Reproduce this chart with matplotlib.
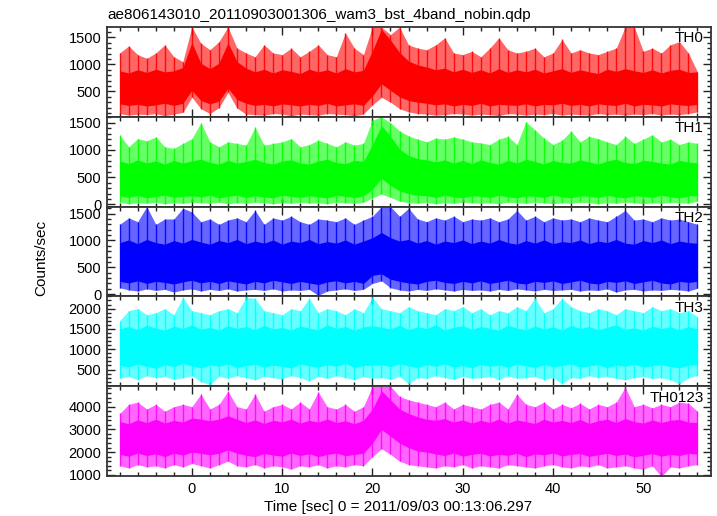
import matplotlib
matplotlib.use('Agg')
import matplotlib.pyplot as plt
import matplotlib.ticker as ticker
import numpy as np

# time bins, 1 s wide, centred on -8 ... 56 s
time_sec = np.arange(-8, 57)

# TH0 : per-second spike top / dip bottom and dense core band (counts/sec)
th0_hi = [1210, 1340, 1180, 1110, 1210, 1360, 1140, 1050, 1690, 1390,
          1270, 1420, 1690, 1300, 1210, 1140, 1360, 1210, 1180, 1300,
          1140, 1240, 1360, 1180, 1140, 1580, 1300, 1180, 1690, 1690,
          1550, 1690, 1360, 1300, 1270, 1360, 1490, 1210, 1180, 1240,
          1140, 1300, 1490, 1270, 1210, 1240, 1300, 1140, 1210, 1460,
          1210, 1270, 1210, 1180, 1240, 1300, 1690, 1690, 1240, 1300,
          1210, 1360, 1420, 1210, 860]
th0_lo = [90, 60, 80, 70, 90, 50, 80, 110, 390, 180,
          90, 200, 480, 190, 80, 70, 60, 90, 80, 50,
          80, 70, 60, 90, 80, 70, 50, 80, 250, 390,
          300, 180, 120, 90, 80, 60, 70, 90, 80, 60,
          80, 70, 50, 90, 80, 60, 80, 70, 90, 60,
          80, 70, 60, 90, 70, 80, 60, 80, 70, 90,
          60, 80, 70, 90, 120]
th0_core_lo = [270, 240, 260, 230, 250, 280, 240, 280, 520, 330,
               270, 320, 560, 350, 280, 240, 260, 230, 270, 250,
               230, 260, 240, 280, 230, 250, 270, 240, 420, 640,
               520, 400, 330, 300, 280, 250, 270, 230, 260, 240,
               280, 230, 260, 250, 240, 270, 230, 260, 250, 280,
               240, 260, 230, 270, 250, 240, 280, 230, 260, 250,
               230, 270, 250, 240, 260]
th0_core_hi = [880, 840, 900, 850, 910, 860, 880, 940, 1400, 1020,
               920, 1020, 1400, 1050, 930, 860, 910, 840, 900, 870,
               830, 910, 860, 900, 840, 920, 860, 890, 1250, 1650,
               1450, 1220, 1060, 990, 950, 900, 930, 860, 910, 850,
               900, 840, 920, 850, 900, 860, 910, 840, 880, 920,
               850, 900, 860, 830, 910, 870, 920, 880, 850, 900,
               840, 890, 910, 850, 860]

# TH1
th1_hi = [1280, 1060, 1210, 1170, 1240, 1060, 1030, 1120, 1210, 1500,
          1150, 1060, 1150, 1120, 1090, 1420, 1090, 1120, 1150, 1210,
          1060, 1100, 1180, 1120, 1060, 1150, 1090, 1120, 1550, 1610,
          1500, 1350, 1260, 1200, 1150, 1220, 1200, 1240, 1200, 1150,
          1130, 1100, 1200, 1250, 1100, 1520, 1370, 1220, 1100, 1180,
          1350, 1150, 1250, 1210, 1150, 1100, 1250, 1120, 1200, 1280,
          1150, 1200, 1100, 1150, 1120]
th1_lo = [40, 10, 30, 20, 40, 10, 30, 20, 40, 30,
          20, 40, 10, 30, 20, 40, 30, 10, 30, 20,
          40, 20, 30, 10, 40, 30, 20, 40, 120, 190,
          130, 60, 30, 20, 40, 10, 30, 20, 40, 30,
          20, 30, 10, 40, 30, 20, 40, 30, 10, 30,
          20, 40, 30, 10, 30, 20, 40, 30, 10, 30,
          20, 40, 30, 20, 60]
th1_core_lo = [160, 130, 170, 120, 150, 170, 130, 150, 160, 140,
               170, 120, 150, 170, 130, 160, 140, 120, 170, 150,
               130, 160, 140, 120, 170, 150, 130, 160, 280, 480,
               350, 250, 200, 170, 160, 130, 170, 140, 120, 160,
               150, 130, 170, 140, 120, 160, 150, 130, 170, 140,
               120, 160, 150, 130, 170, 140, 120, 160, 150, 130,
               170, 140, 120, 160, 160]
th1_core_hi = [800, 750, 820, 760, 800, 740, 810, 760, 800, 830,
               770, 740, 810, 760, 790, 830, 770, 740, 800, 820,
               760, 740, 800, 830, 770, 750, 810, 790, 1100, 1450,
               1250, 1020, 900, 840, 820, 780, 820, 760, 810, 750,
               820, 770, 740, 810, 760, 830, 790, 740, 810, 770,
               760, 820, 780, 740, 800, 830, 770, 750, 810, 790,
               760, 740, 810, 780, 760]

# TH2
th2_hi = [1300, 1420, 1350, 1630, 1300, 1400, 1400, 1600, 1530, 1350,
          1400, 1300, 1380, 1420, 1350, 1560, 1300, 1420, 1380, 1450,
          1350, 1300, 1400, 1380, 1350, 1420, 1300, 1380, 1450, 1630,
          1630, 1450, 1600, 1400, 1350, 1420, 1380, 1450, 1350, 1400,
          1380, 1420, 1350, 1400, 1560, 1380, 1450, 1350, 1420, 1380,
          1400, 1350, 1420, 1380, 1350, 1450, 1560, 1380, 1400, 1350,
          1420, 1380, 1400, 1350, 1300]
th2_lo = [120, 80, 60, 100, 70, 90, 40, 80, 100, 60,
          90, 70, 100, 60, 80, 90, 70, 100, 60, 80,
          70, 90, -20, 60, 80, 100, 70, 90, 200, 250,
          120, 80, 60, 90, 70, 100, 80, 60, 90, 70,
          80, 60, 90, 70, 100, 80, 60, 90, 70, 80,
          90, 60, 80, 70, 100, 40, 80, 90, 60, 80,
          70, 90, 80, 60, 110]
th2_core_lo = [240, 210, 250, 200, 240, 220, 190, 230, 260, 210,
               240, 200, 250, 220, 190, 240, 210, 260, 230, 200,
               240, 210, 180, 230, 250, 210, 240, 200, 350, 380,
               280, 240, 210, 190, 240, 260, 220, 200, 240, 210,
               250, 200, 230, 260, 210, 190, 240, 220, 250, 200,
               230, 260, 210, 190, 240, 220, 250, 200, 230, 260,
               210, 190, 240, 220, 240]
th2_core_hi = [960, 1010, 940, 1020, 960, 930, 1000, 950, 1020, 970,
               930, 1000, 960, 1020, 940, 990, 950, 1010, 930, 990,
               960, 1020, 940, 980, 950, 1010, 930, 990, 1050, 1150,
               1050, 990, 1020, 950, 1000, 930, 990, 960, 1010, 940,
               990, 950, 1020, 960, 930, 1000, 950, 1010, 940, 980,
               960, 1010, 940, 990, 960, 1020, 950, 930, 1000, 960,
               1010, 940, 990, 960, 950]

# TH3
th3_hi = [1700, 1950, 2000, 1850, 1900, 2000, 1850, 2280, 1950, 1900,
          1850, 1950, 2000, 1900, 2280, 2250, 1950, 1900, 1850, 2000,
          1950, 2250, 1900, 2000, 1950, 1850, 2000, 1900, 2280, 2000,
          1950, 1900, 2050, 1950, 1900, 1850, 2000, 1950, 2050, 1900,
          2000, 1850, 1950, 1900, 2050, 1950, 2260, 1900, 2000, 2250,
          2050, 1950, 1900, 2000, 1950, 1850, 2000, 1950, 1900, 2050,
          1950, 2000, 1900, 1950, 1800]
th3_lo = [280, 330, 250, 350, 300, 330, 260, 300, 350, 200,
          130, 330, 280, 350, 300, 250, 330, 300, 270, 350,
          300, 220, 330, 280, 350, 300, 250, 330, 280, 300,
          260, 330, 150, 300, 280, 350, 300, 260, 330, 280,
          300, 330, 250, 350, 280, 300, 330, 250, 300, 150,
          300, 280, 350, 300, 330, 280, 250, 300, 330, 280,
          300, 250, 150, 300, 350]
th3_core_lo = [610, 560, 640, 580, 530, 620, 570, 650, 590, 540,
               620, 580, 640, 550, 600, 630, 560, 610, 580, 540,
               640, 590, 560, 620, 580, 650, 550, 600, 610, 620,
               570, 640, 590, 550, 620, 580, 640, 560, 600, 540,
               630, 580, 610, 560, 640, 590, 550, 620, 570, 600,
               640, 560, 590, 620, 550, 610, 580, 640, 560, 600,
               620, 570, 540, 610, 610]
th3_core_hi = [1500, 1560, 1480, 1590, 1520, 1470, 1570, 1510, 1600, 1490,
               1540, 1470, 1580, 1510, 1560, 1480, 1590, 1500, 1540, 1470,
               1570, 1520, 1480, 1600, 1510, 1560, 1470, 1550, 1580, 1540,
               1500, 1590, 1480, 1550, 1510, 1600, 1470, 1540, 1580, 1490,
               1560, 1510, 1470, 1590, 1520, 1480, 1570, 1500, 1550, 1470,
               1590, 1510, 1560, 1480, 1540, 1600, 1490, 1530, 1470, 1570,
               1510, 1550, 1480, 1560, 1500]

# TH0123 (sum)
th0123_hi = [3700, 4100, 4200, 3900, 4100, 3800, 4000, 4100, 4000, 4550,
             3900, 4100, 4680, 4000, 3900, 4550, 3800, 4000, 4100, 3900,
             4200, 3900, 4650, 4000, 3900, 4100, 3800, 4000, 4900, 4900,
             4900, 4450, 4300, 4200, 4100, 4000, 4200, 3900, 4100, 4000,
             3900, 4100, 4200, 3900, 4550, 4100, 4000, 4200, 3900, 4100,
             3950, 4150, 3900, 4100, 4000, 4200, 4860, 4000, 4100, 3950,
             4100, 4000, 4200, 4150, 3800]
th0123_lo = [1400, 1300, 1450, 1350, 1400, 1300, 1450, 1350, 1500, 1400,
             1300, 1450, 1600, 1400, 1350, 1450, 1300, 1400, 1350, 1250,
             1400, 1350, 1450, 1300, 1400, 1350, 1450, 1400, 1800, 2150,
             1900, 1600, 1450, 1400, 1350, 1300, 1400, 1350, 1450, 1300,
             1400, 1350, 1300, 1450, 1400, 1350, 1300, 1400, 1450, 1350,
             1300, 1400, 1350, 1450, 1300, 1350, 1400, 1300, 1250, 1400,
             920, 1350, 1300, 1400, 1450]
th0123_core_lo = [1900, 1820, 1960, 1850, 1930, 1800, 1950, 1870, 2000, 1950,
                  1880, 1950, 2100, 1950, 1860, 1800, 1940, 1870, 1820, 1960,
                  1850, 1930, 1800, 1900, 1960, 1840, 1900, 1950, 2400, 3000,
                  2700, 2400, 2200, 2050, 2000, 1920, 1850, 1960, 1820, 1900,
                  1950, 1830, 1900, 1860, 1950, 1800, 1920, 1880, 1960, 1830,
                  1900, 1940, 1810, 1880, 1950, 1850, 1920, 1790, 1860, 1940,
                  1820, 1900, 1850, 1950, 1910]
th0123_core_hi = [3350, 3250, 3420, 3300, 3450, 3280, 3400, 3320, 3500, 3450,
                  3380, 3450, 3600, 3450, 3300, 3420, 3260, 3400, 3330, 3450,
                  3280, 3400, 3320, 3460, 3300, 3380, 3250, 3400, 3900, 4700,
                  4300, 3900, 3700, 3550, 3450, 3400, 3480, 3320, 3420, 3280,
                  3400, 3300, 3460, 3280, 3420, 3340, 3260, 3450, 3320, 3400,
                  3300, 3440, 3260, 3380, 3450, 3300, 3480, 3340, 3280, 3420,
                  3300, 3400, 3440, 3320, 3300]

channels = ['TH0', 'TH1', 'TH2', 'TH3', 'TH0123']
colors = ['#ff0000', '#00ff00', '#0000ff', '#00ffff', '#ff00ff']
ylims = [(30, 1690), (-40, 1610), (-40, 1630), (90, 2300), (950, 4900)]
ymajor = [500, 500, 500, 500, 1000]

series = {
    'TH0': (th0_lo, th0_hi, th0_core_lo, th0_core_hi),
    'TH1': (th1_lo, th1_hi, th1_core_lo, th1_core_hi),
    'TH2': (th2_lo, th2_hi, th2_core_lo, th2_core_hi),
    'TH3': (th3_lo, th3_hi, th3_core_lo, th3_core_hi),
    'TH0123': (th0123_lo, th0123_hi, th0123_core_lo, th0123_core_hi),
}


def plot():
    plt.rcParams['font.family'] = ['Liberation Sans', 'DejaVu Sans']
    plt.rcParams['font.size'] = 10.5
    fig = plt.figure(figsize=(7.17, 5.16), dpi=100)
    gs = fig.add_gridspec(5, 1, left=107/717, right=711/717,
                          bottom=1 - 476/516, top=1 - 27/516, hspace=0)
    for i, name in enumerate(channels):
        ax = fig.add_subplot(gs[i])
        lo, hi, core_lo, core_hi = series[name]
        c = colors[i]
        # light envelope, per-second spikes, then solid core band
        ax.fill_between(time_sec, lo, hi, color=c, alpha=0.6, lw=0)
        ax.vlines(time_sec, lo, hi, color=c, alpha=0.9, lw=1.0)
        ax.fill_between(time_sec, core_lo, core_hi, color=c, lw=0)

        ax.set_xlim(-9.4, 57.5)
        ax.set_ylim(*ylims[i])
        ax.xaxis.set_major_locator(ticker.MultipleLocator(10))
        ax.xaxis.set_minor_locator(ticker.AutoMinorLocator(5))
        ax.yaxis.set_major_locator(ticker.MultipleLocator(ymajor[i]))
        ax.yaxis.set_minor_locator(ticker.AutoMinorLocator(5))
        ax.tick_params(which='both', direction='in', top=True, right=True,
                       width=1.0, colors='#222222', labelcolor='black')
        ax.tick_params(which='major', length=6, pad=4)
        ax.tick_params(which='minor', length=3)
        for sp in ax.spines.values():
            sp.set_linewidth(1.3)
            sp.set_color('#333333')
        ax.text(0.988, 0.95, name, transform=ax.transAxes,
                ha='right', va='top', fontsize=11)
        if i < len(channels) - 1:
            ax.tick_params(labelbottom=False)
        # drop tick labels that fall outside the panel
        ax.set_yticks([v for v in ax.get_yticks()
                       if ylims[i][0] <= v <= ylims[i][1]])

    fig.text(107/717, 1 - 15/516,
             'ae806143010_20110903001306_wam3_bst_4band_nobin.qdp',
             ha='left', va='center', fontsize=11)
    fig.text(0.058, 1 - 258/516, 'Counts/sec', rotation=90,
             ha='center', va='center', fontsize=11)
    fig.text(0.555, 1 - 507/516, 'Time [sec] 0 = 2011/09/03 00:13:06.297',
             ha='center', va='center', fontsize=11)
    fig.savefig('out.png', dpi=100)


if __name__ == '__main__':
    plot()
